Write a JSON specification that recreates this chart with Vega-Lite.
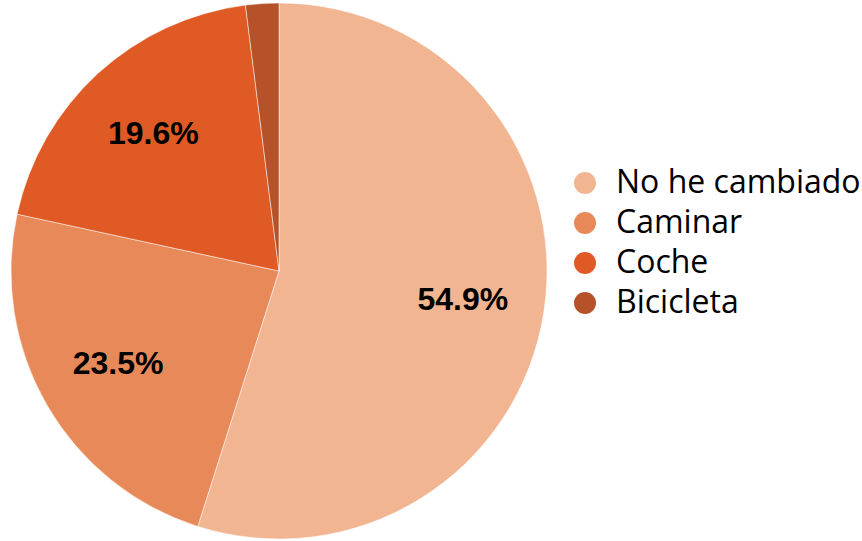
{
  "$schema": "https://vega.github.io/schema/vega-lite/v6.json",
  "width": 558,
  "height": 542,
  "padding": 0,
  "autosize": {"type": "pad"},
  "background": "white",
  "config": {"view": {"stroke": null}},
  "data": {
    "values": [
      {"category": "No he cambiado", "value": 54.9, "order": 1, "label": "54.9%"},
      {"category": "Caminar", "value": 23.5, "order": 2, "label": "23.5%"},
      {"category": "Coche", "value": 19.6, "order": 3, "label": "19.6%"},
      {"category": "Bicicleta", "value": 2.0, "order": 4, "label": ""}
    ]
  },
  "encoding": {
    "theta": {"field": "value", "type": "quantitative", "stack": true},
    "order": {"field": "order", "type": "quantitative"}
  },
  "layer": [
    {
      "mark": {"type": "arc", "outerRadius": 268, "stroke": "white", "strokeWidth": 0.5},
      "encoding": {
        "color": {
          "field": "category",
          "type": "nominal",
          "sort": ["No he cambiado", "Caminar", "Coche", "Bicicleta"],
          "scale": {
            "domain": ["No he cambiado", "Caminar", "Coche", "Bicicleta"],
            "range": ["#F2B592", "#E8895A", "#E05A25", "#B5522A"]
          },
          "legend": {
            "title": null,
            "orient": "none",
            "legendX": 569,
            "legendY": 167,
            "symbolType": "circle",
            "symbolSize": 484,
            "symbolStrokeWidth": 0,
            "labelFont": "Open Sans",
            "labelFontSize": 32,
            "labelColor": "#000000",
            "labelOffset": 15,
            "rowPadding": 8,
            "labelLimit": 400
          }
        }
      }
    },
    {
      "mark": {"type": "text", "radius": 186, "font": "Liberation Sans", "fontWeight": "bold", "fontSize": 32, "color": "#000000", "baseline": "middle", "align": "center"},
      "encoding": {
        "text": {"field": "label", "type": "nominal"}
      }
    }
  ]
}
